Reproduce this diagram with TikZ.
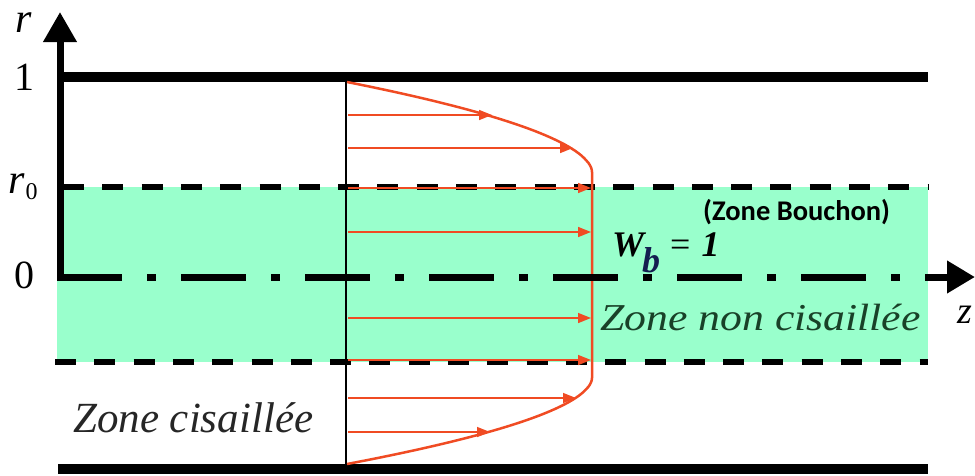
\documentclass[tikz,border=0pt]{standalone}
\usepackage{fontspec}
\setmainfont{Liberation Serif}
\newfontfamily\tms{Liberation Serif}
\newfontfamily\calib{Carlito}
\newfontfamily\stserif[FakeStretch=1.15]{Liberation Serif}
\usetikzlibrary{arrows.meta}
\definecolor{mint}{RGB}{153,255,204}
\definecolor{profred}{RGB}{240,75,35}
\definecolor{zonegreen}{RGB}{25,65,40}
\definecolor{subblue}{RGB}{20,30,80}
\tikzset{
  wall/.style={line width=10.5pt},
  yieldline/.style={line width=6pt, dash pattern=on 21pt off 18.3pt},
  vel/.style={profred, line width=1.5pt, -{Triangle[length=13pt 0,width=10pt 0]}},
  lab/.style={inner sep=0pt, anchor=base west},
}
\begin{document}
\begin{tikzpicture}[x=1pt,y=-1pt,line cap=butt]
\useasboundingbox (0,0) rectangle (975,475);
% unsheared zone
\fill[mint] (57,187) rectangle (928,362);
% walls
\draw[wall] (60,77) -- (928,77);
\draw[wall] (58,469) -- (928,469);
% yield surfaces
\draw[yieldline] (63,187) -- (928,187);
\draw[yieldline] (55,362) -- (928,362);
% section line
\draw[line width=2.5pt] (346,77) -- (346,469);
% velocity profile
\draw[profred, line width=2.5pt, line join=round]
  plot[domain=82:172, samples=40, variable=\t] ({347+245*(1-((172-\t)/90)^1.85)},\t)
  -- plot[domain=378:464, samples=40, variable=\t] ({347+245*(1-((\t-378)/86)^1.85)},\t);
% velocity arrows
\coordinate (a1s) at (348,115); \coordinate (a1e) at (492,115);
\coordinate (a2s) at (348,148); \coordinate (a2e) at (573,148);
\coordinate (a3s) at (348,188); \coordinate (a3e) at (591,188);
\coordinate (a4s) at (348,232); \coordinate (a4e) at (591,232);
\coordinate (a5s) at (348,318); \coordinate (a5e) at (591,318);
\coordinate (a6s) at (348,360); \coordinate (a6e) at (591,360);
\coordinate (a7s) at (348,398); \coordinate (a7e) at (576,398);
\coordinate (a8s) at (348,432); \coordinate (a8e) at (490,432);
\foreach \i in {1,...,8} { \draw[vel] (a\i s) -- (a\i e); }
% axes
\coordinate (O) at (57,277);
\coordinate (ztip) at (975,277);
\coordinate (rbase) at (60,280);
\coordinate (rtip) at (60,12);
\draw[line width=7pt, dash pattern=on 65pt off 25pt on 9pt off 25pt,
      -{Triangle[length=28pt 0,width=31pt 0]}] (O) -- (ztip);
\draw[line width=7pt, -{Triangle[length=30pt 0,width=32pt 0]}] (rbase) -- (rtip);
% axis labels
\node[lab] (lr) at (15,32) {\tms\fontsize{42}{42}\selectfont\itshape r};
\node[lab] (l1) at (14,90) {\tms\fontsize{40}{40}\selectfont 1};
\node[lab] (lr0) at (8,193) {\tms\fontsize{42}{42}\selectfont\itshape r\kern1pt\raisebox{-6pt}{\fontsize{24}{24}\selectfont\upshape 0}};
\node[lab] (l0) at (14,288) {\tms\fontsize{40}{40}\selectfont 0};
\node[lab] (lz) at (957,323) {\tms\fontsize{38}{38}\selectfont\itshape z};
% zone labels
\node[lab] (bouchon) at (703,220) {\calib\bfseries\fontsize{28.5}{28.5}\selectfont (Zone Bouchon)};
\node[lab] (wb) at (612,256) {\tms\fontsize{36}{36}\selectfont\bfseries\itshape W\kern-2pt\raisebox{-16pt}{\textcolor{subblue}{b}}\kern10pt{\mdseries\upshape =}\kern11pt 1};
\node[lab, text=zonegreen] (nonc) at (600,330) {\stserif\itshape\fontsize{38}{38}\selectfont Zone non cisaillée};
\node[lab, text=black!85] (cis) at (73,432) {\tms\fontsize{43}{43}\selectfont\itshape Zone cisaillée};
\end{tikzpicture}
\end{document}
